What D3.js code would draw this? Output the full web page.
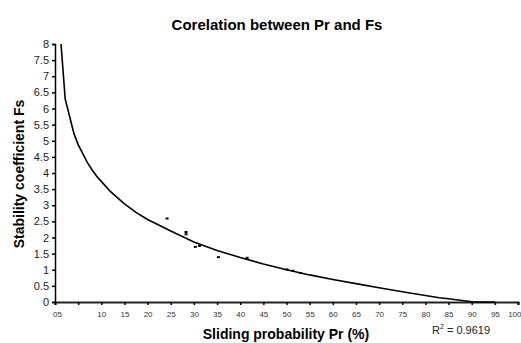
<!DOCTYPE html>
<html>
<head>
<meta charset="utf-8">
<script src="https://cdn.jsdelivr.net/npm/d3@7"></script>
<style>
  body { margin: 0; background: #fff; }
  text { font-family: "Liberation Sans", Arial, sans-serif; fill: #000; }
</style>
</head>
<body>
<div id="chart"></div>
<script>
// measured points (Pr %, Fs)
const prValues = [24.2, 28.3, 28.3, 30.3, 31.2, 35.3, 41.5, 50.1, 51.4, 53.0];
const fsValues = [2.59, 2.17, 2.10, 1.71, 1.74, 1.39, 1.37, 1.01, 0.97, 0.90];

// trendline vertices
const trendPr = [1.3, 2.2, 4.1, 5, 6, 7, 8, 9, 10, 12, 15, 17.5, 20, 25, 30, 35, 40, 45, 50, 55, 60, 65, 70, 75, 80, 83, 85, 90.5, 95];
const trendFs = [8.0, 6.3, 5.22, 4.88, 4.6, 4.32, 4.1, 3.9, 3.74, 3.42, 3.04, 2.78, 2.56, 2.2, 1.86, 1.6, 1.38, 1.18, 1.0, 0.84, 0.7, 0.57, 0.44, 0.32, 0.2, 0.13, 0.1, 0, 0];

const xTicks = d3.range(0, 101, 5);
const xTickLabels = ["05", "", "10", "15", "20", "25", "30", "35", "40", "45", "50",
  "55", "60", "65", "70", "75", "80", "85", "90", "95", "100"];
const yTicks = d3.range(0, 8.01, 0.5);

const W = 521, H = 343;
const margin = {top: 44, right: 3, bottom: 41, left: 55};
const width = W - margin.left - margin.right;
const height = H - margin.top - margin.bottom;

const svg = d3.select("#chart")
  .append("svg")
  .attr("width", W)
  .attr("height", H);

const g = svg.append("g")
  .attr("transform", `translate(${margin.left},${margin.top})`);

const x = d3.scaleLinear().domain([0, 100]).range([0, width]);
const y = d3.scaleLinear().domain([0, 8]).range([height, 0]);

// y axis
const yAxis = g.append("g")
  .call(d3.axisLeft(y).tickValues(yTicks).tickSize(3).tickPadding(3)
    .tickFormat(d => d3.format("")(d)));
yAxis.select(".domain").attr("stroke", "#000").attr("stroke-width", 1.5);
yAxis.selectAll(".tick line").attr("stroke", "#000").attr("stroke-width", 1.5);
yAxis.selectAll("text").style("font-size", "11px").style("fill", "#222");

// x axis
const xAxis = g.append("g")
  .attr("transform", `translate(0,${height})`)
  .call(d3.axisBottom(x).tickValues(xTicks).tickSize(3).tickPadding(6)
    .tickFormat((d, i) => xTickLabels[i]));
xAxis.select(".domain").attr("stroke", "#222").attr("stroke-width", 2.2);
xAxis.selectAll(".tick line").attr("stroke", "#000").attr("stroke-width", 1.5);
xAxis.selectAll("text").style("font-size", "8px").style("fill", "#333");
xAxis.selectAll(".tick text").filter((d, i) => i === 0).attr("dx", 2);
xAxis.selectAll(".tick text").filter((d, i) => i === xTicks.length - 1)
  .attr("text-anchor", "end").attr("dx", 3);

// trendline
const line = d3.line()
  .x((d, i) => x(trendPr[i]))
  .y((d, i) => y(d));

g.append("path")
  .datum(trendFs)
  .attr("d", line)
  .attr("fill", "none")
  .attr("stroke", "#000")
  .attr("stroke-width", 1.6);

// data points
g.selectAll(".pt")
  .data(prValues)
  .enter()
  .append("rect")
  .attr("class", "pt")
  .attr("x", d => x(d) - 1.5)
  .attr("y", (d, i) => y(fsValues[i]) - 1)
  .attr("width", 3)
  .attr("height", 2)
  .attr("fill", "#000");

// title
svg.append("text")
  .attr("x", 277)
  .attr("y", 30)
  .attr("text-anchor", "middle")
  .style("font-size", "15px")
  .style("font-weight", "bold")
  .text("Corelation between Pr and Fs");

// axis titles
svg.append("text")
  .attr("x", 286)
  .attr("y", 339)
  .attr("text-anchor", "middle")
  .style("font-size", "14px")
  .style("font-weight", "bold")
  .text("Sliding probability Pr (%)");

svg.append("text")
  .attr("transform", "translate(24,174) rotate(-90)")
  .attr("text-anchor", "middle")
  .style("font-size", "14px")
  .style("font-weight", "bold")
  .text("Stability coefficient Fs");

// R squared
const r2 = svg.append("text")
  .attr("x", 432)
  .attr("y", 334)
  .style("font-size", "11px")
  .style("fill", "#222");
r2.append("tspan").text("R");
r2.append("tspan").attr("dy", -5).style("font-size", "7px").text("2");
r2.append("tspan").attr("dy", 5).text(" = 0.9619");
</script>
</body>
</html>
